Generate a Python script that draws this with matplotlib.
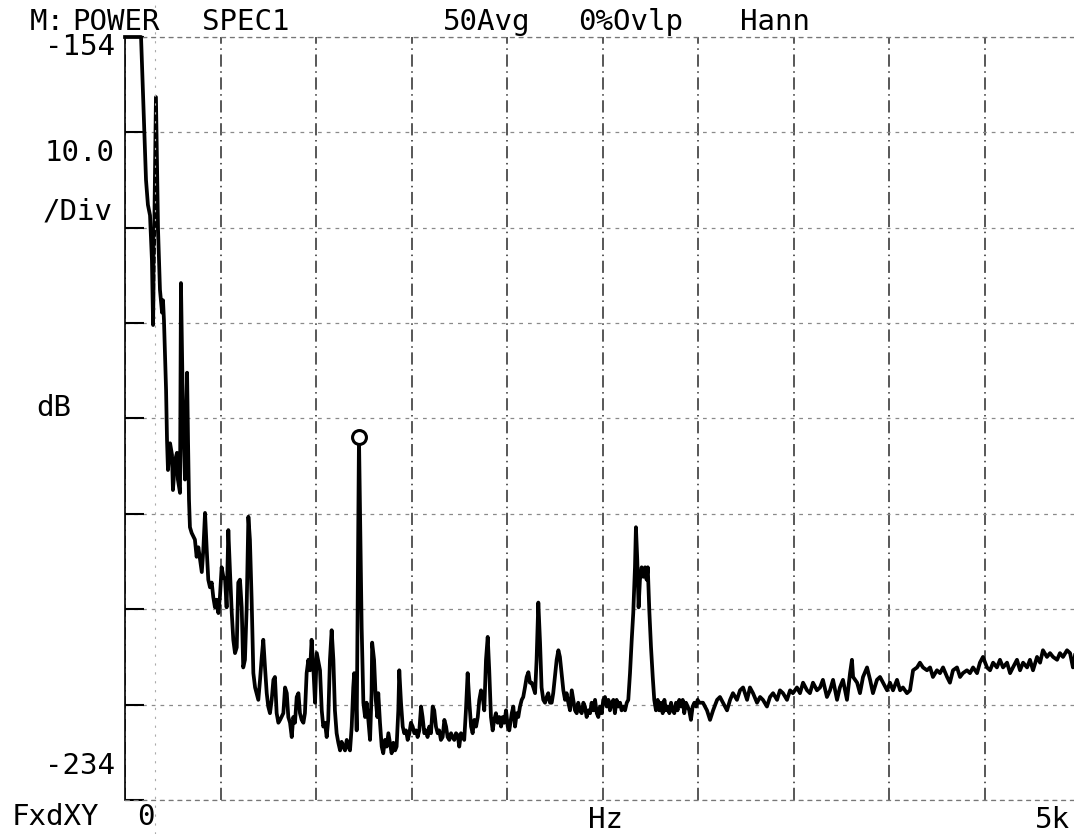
import matplotlib
matplotlib.use("Agg")
import matplotlib.pyplot as plt
from matplotlib.lines import Line2D

# Spectro de potência (Hz, dB)
freq_hz = [
    0, 84, 89, 99, 110, 120, 131, 141, 147, 162, 173, 183, 194, 199, 204, 215, 220, 225,
    236, 246, 251, 262, 272, 277, 288, 293, 304, 314, 325, 330, 335, 340,
    349, 366, 375, 384, 393, 402, 410, 419, 428, 436, 445, 454, 462, 471, 480, 489, 497,
    506, 515, 524, 532, 541, 550, 559, 567, 576, 585, 593, 602, 611, 619, 628, 637, 646,
    654, 663, 672, 681, 689, 698, 707, 716, 724, 733, 742, 750, 759, 768, 777, 785, 794,
    803, 812, 829, 838, 847, 855, 864, 873, 881, 890, 899, 908, 916, 925, 934, 942, 951,
    960, 969, 977, 986, 995, 1004, 1021, 1030, 1038, 1047, 1056, 1064, 1073, 1082, 1091,
    1099, 1108, 1117, 1126, 1134, 1143, 1152, 1161, 1169, 1178, 1187, 1195, 1200, 1208,
    1213, 1225, 1239, 1248, 1257, 1265, 1274, 1283, 1291, 1294, 1304, 1313, 1321, 1326,
    1335, 1344, 1352, 1361, 1370, 1379, 1387, 1396, 1405, 1414, 1422, 1431, 1436, 1445,
    1454, 1462, 1471, 1480, 1489, 1497, 1506, 1515, 1524, 1532, 1541, 1550, 1558, 1567,
    1576, 1584, 1593, 1602, 1611, 1619, 1628, 1637, 1645, 1654, 1663, 1672, 1681, 1689,
    1698, 1707, 1715, 1724, 1733, 1742, 1750, 1759, 1768, 1776, 1785, 1794, 1803, 1812,
    1820, 1829, 1838, 1847, 1855, 1864, 1873, 1881, 1890, 1899, 1907, 1916, 1925, 1933,
    1942, 1951, 1960, 1969, 1977, 1986, 1995, 2004, 2012, 2025, 2033, 2042, 2051, 2059,
    2068, 2077, 2085, 2094, 2103, 2112, 2120, 2129, 2138, 2147, 2155, 2164, 2173, 2181,
    2190, 2199, 2208, 2216, 2225, 2234, 2242, 2251, 2260, 2269, 2277, 2286, 2295, 2304,
    2312, 2321, 2330, 2339, 2347, 2356, 2365, 2373, 2382, 2391, 2400, 2408, 2417, 2426,
    2435, 2443, 2452, 2461, 2470, 2478, 2487, 2496, 2504, 2513, 2522, 2531, 2539, 2548,
    2557, 2565, 2574, 2583, 2592, 2600, 2609, 2618, 2627, 2635, 2644, 2653, 2661, 2670,
    2675, 2682, 2689, 2696, 2705, 2714, 2723, 2731, 2737, 2745, 2754, 2763, 2771, 2780,
    2789, 2797, 2806, 2815, 2824, 2832, 2841, 2850, 2859, 2867, 2876, 2885, 2893, 2902,
    2911, 2920, 2928, 2937, 2946, 2954, 2963, 2972, 2981, 2990, 2998, 3007, 3026, 3047,
    3063, 3079, 3100, 3115, 3131, 3152, 3168, 3183, 3204, 3220, 3236, 3257, 3272, 3288,
    3309, 3325, 3340, 3361, 3377, 3393, 3414, 3429, 3445, 3466, 3482, 3497, 3518, 3534,
    3550, 3571, 3586, 3602, 3623, 3639, 3654, 3675, 3691, 3707, 3728, 3743, 3759, 3780,
    3796, 3806, 3812, 3833, 3848, 3864, 3885, 3901, 3916, 3937, 3953, 3969, 3990, 4005,
    4021, 4042, 4058, 4073, 4094, 4110, 4126, 4147, 4162, 4178, 4199, 4215, 4230, 4251,
    4267, 4283, 4304, 4319, 4335, 4356, 4372, 4387, 4408, 4424, 4440, 4461, 4476, 4492,
    4513, 4529, 4545, 4565, 4581, 4597, 4618, 4634, 4649, 4670, 4686, 4702, 4723, 4738,
    4754, 4775, 4791, 4806, 4827, 4843, 4859, 4880, 4895, 4911, 4932, 4948, 4963, 4974,
]
nivel_db = [
    -154.0, -154.0, -156.9, -162.7, -169.0, -171.6, -172.7, -177.4, -184.2, -160.3, -174.2,
    -180.5, -182.9, -181.6, -183.7, -191.0, -196.3, -199.4,
    -196.6, -197.8, -201.5, -198.4, -197.6, -200.4, -201.8, -179.8, -194.2, -200.4, -189.2,
    -196.3, -202.5, -205.4,
    -206.0, -206.7, -208.5, -207.5, -208.8, -210.1, -207.8, -203.9, -207.8, -210.9, -211.7,
    -211.2, -212.7, -213.8, -213.0, -214.4, -212.7,
    -209.6, -210.6, -210.9, -213.8, -205.7, -210.2, -214.4, -217.2, -218.6, -218.0, -211.2,
    -210.9, -213.8, -220.1, -219.3, -213.8, -204.3,
    -206.7, -213.0, -220.7, -222.2, -222.8, -223.5, -221.4, -219.0, -217.2, -220.1, -222.8,
    -224.2, -224.9, -223.5, -221.4, -221.1, -224.9,
    -225.9, -225.6, -224.9, -222.2, -222.8, -225.3, -225.9, -227.4, -225.3, -225.9, -223.2,
    -222.8, -224.9, -225.6, -225.9, -224.9, -220.7,
    -219.3, -220.4, -217.2, -220.1, -223.8, -218.6, -220.4, -224.6, -226.3, -225.9, -227.4,
    -225.6, -219.3, -216.2, -219.3,
    -224.6, -227.0, -228.0, -228.8, -227.9, -228.4, -228.8, -227.7, -228.4, -228.8, -226.3,
    -222.2, -220.7, -222.8,
    -226.7, -195.9, -215.9, -223.8, -225.3, -223.8, -225.6, -227.7, -222.8, -217.5, -219.3,
    -223.5, -225.3, -222.8,
    -225.9, -228.4, -229.1, -227.7, -228.4, -227.0, -228.0, -229.1, -228.0, -228.8, -228.4,
    -224.6, -220.4, -223.8,
    -226.3, -227.0, -226.7, -227.7, -227.0, -225.9, -226.3, -227.0, -226.7, -227.4, -226.7,
    -224.2, -225.3, -227.0,
    -226.7, -227.4, -226.3, -227.0, -224.2, -224.6, -226.3, -227.0, -226.7, -227.7, -227.4,
    -225.6, -226.3, -227.4,
    -227.7, -227.0, -227.4, -227.7, -227.0, -227.2, -228.4, -227.0, -227.4, -227.7, -224.6,
    -220.7, -223.8, -226.3,
    -227.0, -225.6, -226.3, -225.3, -223.5, -222.5, -223.2, -224.6, -219.3, -216.9, -220.4,
    -225.3, -226.7, -225.6,
    -224.9, -225.9, -225.3, -226.3, -225.3, -225.9, -224.6, -226.3, -226.7, -224.9, -224.2,
    -226.3, -224.9, -225.3,
    -224.2, -223.5, -223.2, -222.2, -221.1, -220.6, -221.7, -221.7, -222.2, -222.8, -219.3,
    -213.3, -217.5, -222.2,
    -223.5, -223.8, -223.2, -222.8, -223.8, -223.8, -222.8, -221.1, -219.3, -218.3, -219.0,
    -220.7, -222.5, -223.5,
    -222.8, -223.8, -224.6, -222.5, -223.5, -224.6, -224.9, -223.8, -224.6, -224.9, -223.8,
    -224.2, -225.3, -224.6,
    -224.9, -223.8, -224.6, -223.5, -224.9, -225.3, -224.2, -224.9, -223.5, -223.2, -224.2,
    -223.5, -224.6, -223.8,
    -223.5, -224.9, -223.5, -224.2, -223.8, -224.6, -224.2, -224.6, -223.8, -223.5, -220.7,
    -217.2, -214.4, -209.6,
    -205.4, -208.8, -213.8, -210.9, -209.6, -210.6, -209.6, -210.9, -209.6, -214.1, -218.0,
    -221.1, -223.5, -224.6,
    -223.5, -224.6, -223.8, -224.9, -223.5, -224.6, -224.2, -224.9, -223.8, -224.6, -224.9,
    -223.8, -224.6, -223.5,
    -224.2, -223.5, -224.9, -223.8, -224.2, -224.6, -225.6, -224.2, -223.8, -224.2, -223.5,
    -223.8, -223.8, -224.6,
    -225.6, -224.6, -223.5, -223.2, -223.8, -224.6, -223.5, -222.8, -223.5, -222.5, -222.2,
    -223.5, -222.2, -222.8,
    -223.8, -223.2, -223.5, -224.2, -223.2, -222.8, -223.5, -222.5, -222.8, -223.5, -222.5,
    -222.8, -222.2, -222.8,
    -221.7, -222.5, -222.8, -221.7, -222.5, -222.2, -221.4, -223.2, -222.5, -221.4, -223.5,
    -222.2, -221.4, -223.5,
    -220.7, -219.3, -221.1, -221.7, -222.8, -221.1, -220.1, -221.4, -222.8, -221.4, -221.1,
    -221.7, -222.5, -221.7,
    -222.5, -221.4, -222.5, -222.2, -222.8, -222.5, -220.4, -220.1, -219.6, -220.1, -220.4,
    -220.1, -221.1, -220.4,
    -220.7, -220.1, -221.1, -221.7, -220.4, -220.1, -221.1, -220.7, -220.4, -220.7, -220.1,
    -220.7, -219.6, -219.0,
    -220.1, -220.4, -219.6, -220.1, -219.3, -220.1, -219.6, -220.7, -220.1, -219.3, -220.4,
    -219.6, -220.1, -219.3,
    -220.4, -219.0, -219.6, -218.3, -219.0, -218.6, -219.0, -219.3, -218.6, -219.0, -218.3,
    -218.6, -220.1, -218.8,
]

# Marcador no pico
marcador_hz = 1225
marcador_db = -195.9

# Escalas
x_ticks = [0, 500, 1000, 1500, 2000, 2500, 3000, 3500, 4000, 4500, 5000]
y_ticks = [-234, -224, -214, -204, -194, -184, -174, -164, -154]

W, H = 1074, 834
fig = plt.figure(figsize=(W / 100, H / 100), dpi=100)
ax = fig.add_axes([125 / W, 1 - 800 / H, 955 / W, 763 / H])

ax.plot(freq_hz, nivel_db, color="black", lw=2.7, solid_joinstyle="round", zorder=3, clip_on=False)
ax.plot([marcador_hz], [marcador_db], marker="o", ms=10, mfc="white", mec="black", mew=2.2, zorder=4)

ax.set_xlim(0, 5000)
ax.set_ylim(-234, -154)
ax.set_xticks(x_ticks)
ax.set_yticks(y_ticks)
ax.set_xticklabels([])
ax.set_yticklabels([])
ax.tick_params(axis="x", length=0)
ax.tick_params(axis="y", direction="in", length=14, width=1.5, color="black")

# grade tracejada como no plotter
ax.xaxis.grid(True, color="#2a2a2a", lw=1.1, linestyle=(0, (8, 3, 1, 3)))
ax.yaxis.grid(True, color="#8a8a8a", lw=0.9, linestyle=(0, (3, 4)))
ax.set_axisbelow(True)

ax.spines["left"].set_color("black")
ax.spines["left"].set_linewidth(1.2)
for s in ["top", "bottom"]:
    ax.spines[s].set_color("#777777")
    ax.spines[s].set_linewidth(0.9)
    ax.spines[s].set_linestyle((0, (3, 4)))
ax.spines["right"].set_visible(False)

# linha pontilhada fraca do plotter
fig.add_artist(Line2D([155 / W, 155 / W], [0, 1], transform=fig.transFigure,
                      color="#aaaaaa", lw=0.8, linestyle=(0, (2, 6))))

fonte = dict(family="DejaVu Sans Mono", fontsize=21, color="black")


def px(x, y, s, ha="left"):
    fig.text(x / W, 1 - y / H, s, ha=ha, va="center", **fonte)


px(30, 22, "M:")
px(72, 22, "POWER")
px(202, 22, "SPEC1")
px(443, 22, "50Avg")
px(578, 22, "0%Ovlp")
px(740, 22, "Hann")

px(115, 47, "-154", ha="right")
px(115, 153, "10.0", ha="right")
px(113, 212, "/Div", ha="right")
px(36, 408, "dB")
px(115, 766, "-234", ha="right")
px(12, 817, "FxdXY")
px(146, 817, "0", ha="center")
px(605, 820, "Hz", ha="center")
px(1070, 820, "5k", ha="right")

fig.savefig("out.png", dpi=100, facecolor="white")
